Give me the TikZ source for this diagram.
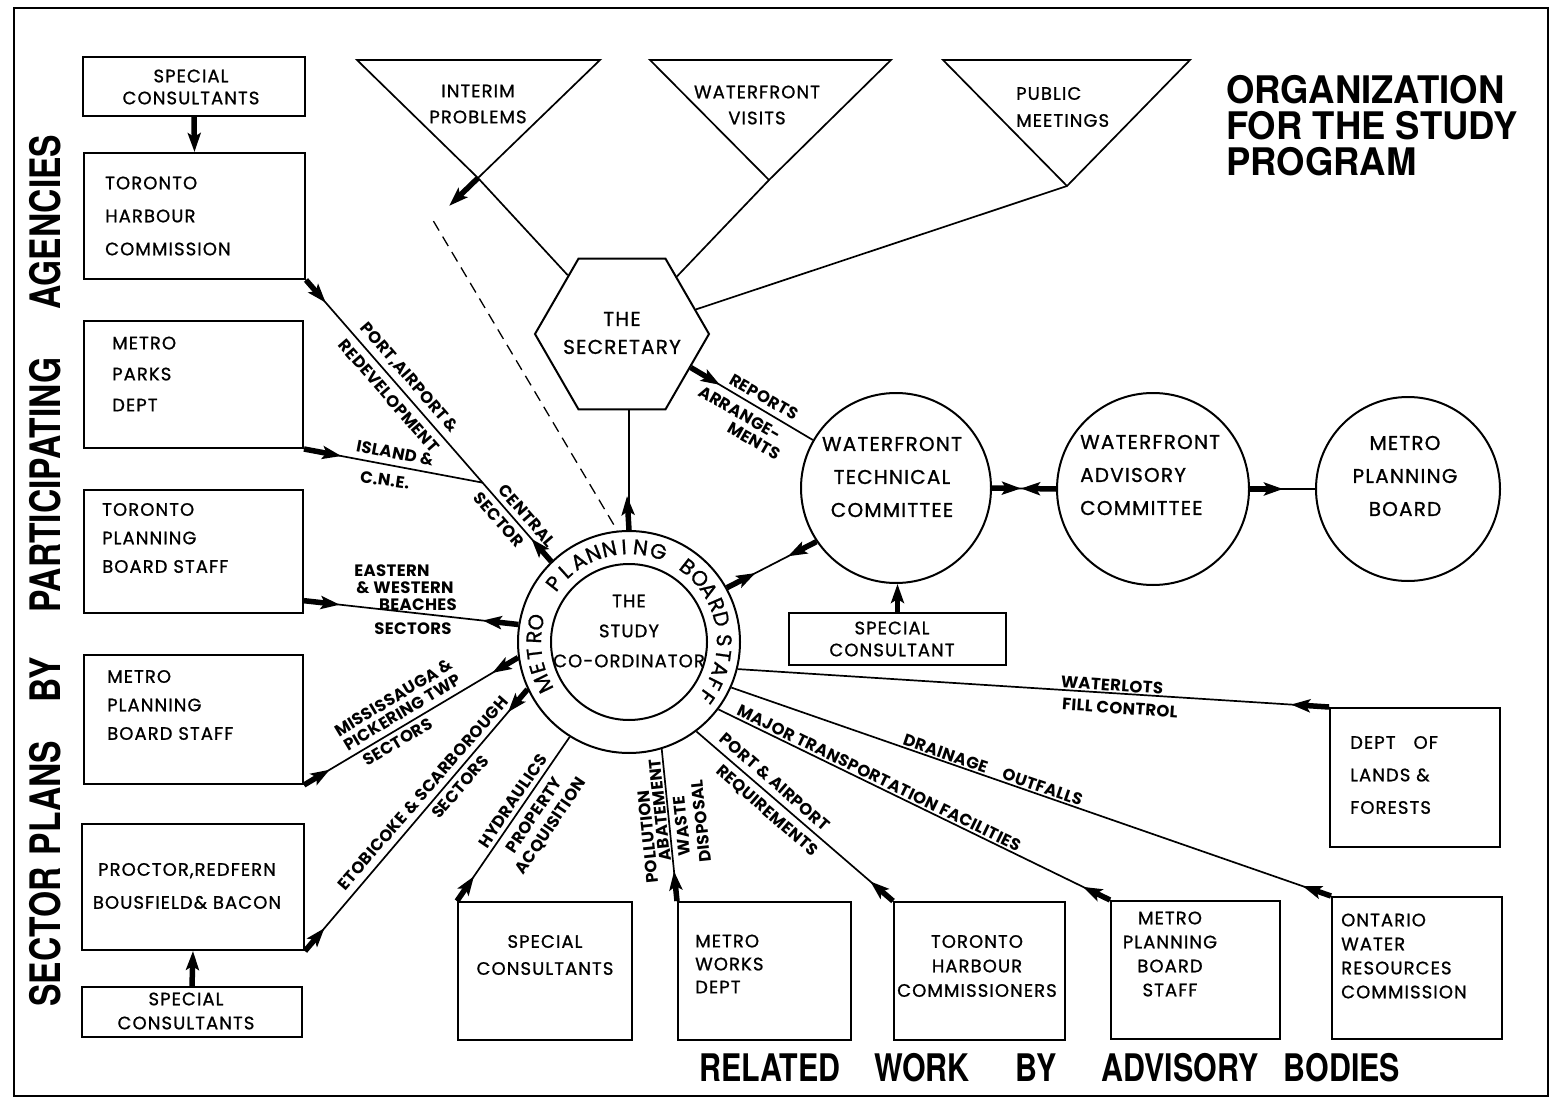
\documentclass[tikz,border=0pt]{standalone}
\usepackage{fontspec}
\usetikzlibrary{arrows.meta,calc,shapes.geometric}

\newfontfamily\boxfont[LetterSpace=6,FakeBold=1]{Poppins}
\newfontfamily\lblfont[LetterSpace=2]{Poppins}
\newfontfamily\headfont[FakeStretch=0.96]{TeX Gyre Heros}
\newfontfamily\narrowfont[FakeStretch=0.8]{TeX Gyre Heros}

% thick stub with an arrow tip, #1 long, running from #2 towards #3
\newcommand{\feed}[3][30pt]{\draw[feed] (#2) -- ($(#2)!#1!(#3)$);}

\tikzset{
  box/.style={rectangle, draw, line width=2pt, inner sep=0pt},
  orb/.style={circle, draw, line width=2pt, inner sep=0pt},
  link/.style={line width=1.7pt},
  feed/.style={line width=5.5pt, -{Stealth[length=19pt,width=13pt,inset=4pt]}},
  btext/.style={font=\boxfont\fontsize{18}{#1}\selectfont, align=center, inner sep=0pt},
  btext/.default=24,
  bigtext/.style={font=\boxfont\fontsize{20}{#1}\selectfont, align=center, inner sep=0pt},
  lbl/.style={font=\lblfont\bfseries\fontsize{16.5}{18}\selectfont, inner sep=0pt},
  ringch/.style={font=\boxfont\fontsize{21}{22}\selectfont, inner sep=0pt},
  headtext/.style={font=\headfont\bfseries\fontsize{38}{36}\selectfont, align=left, inner sep=0pt},
  sidetext/.style={font=\narrowfont\bfseries\fontsize{42}{44}\selectfont, inner sep=0pt},
  foottext/.style={font=\narrowfont\bfseries\fontsize{38}{40}\selectfont, inner sep=0pt}
}

\begin{document}
\begin{tikzpicture}[x=1pt, y=-1pt]
	\useasboundingbox (0,0) rectangle (1556,1102);
	\draw[line width=2.5pt] (14,8) rectangle (1548,1096);

	% headings
	\node[headtext, anchor=west](title) at (1226,126){ORGANIZATION\\FOR THE STUDY\\PROGRAM};
	\foreach \w/\y in {AGENCIES/222, PARTICIPATING/485, BY/680, PLANS/798, SECTOR/937}
		\node[sidetext, rotate=90](side\w) at (45,\y){\w};
	\foreach \w/\x in {RELATED/770, WORK/922, BY/1036, ADVISORY/1180, BODIES/1342}
		\node[foottext](foot\w) at (\x,1068){\w};

	% participating agencies
	\node[box, minimum width=222pt, minimum height=59pt](spTop) at (194,86.5){};
	\node[btext=22](spTopText) at (191,87){SPECIAL\\CONSULTANTS};
	\node[box, minimum width=221pt, minimum height=126pt](thcBox) at (194.5,216){};
	\node[btext=33, align=left, anchor=west](thcText) at (105,216){TORONTO\\HARBOUR\\COMMISSION};
	\node[box, minimum width=219pt, minimum height=127pt](mpdBox) at (193.5,384.5){};
	\node[btext=31, align=left, anchor=west](mpdText) at (112,374){METRO\\PARKS\\DEPT};
	\node[box, minimum width=219pt, minimum height=123pt](tpbsBox) at (193.5,551.5){};
	\node[btext=28.5, align=left, anchor=west](tpbsText) at (102,538){TORONTO\\PLANNING\\BOARD STAFF};
	\node[box, minimum width=219pt, minimum height=129pt](mpbsBox) at (193.5,719.5){};
	\node[btext=28.5, align=left, anchor=west](mpbsText) at (107,705){METRO\\PLANNING\\BOARD STAFF};
	\node[box, minimum width=222pt, minimum height=126pt](procBox) at (193,887){};
	\node[btext=33](procText) at (187,886){PROCTOR,REDFERN\\BOUSFIELD\& BACON};
	\node[box, minimum width=220pt, minimum height=50pt](spBot) at (192,1012){};
	\node[btext=24](spBotText) at (186,1011){SPECIAL\\CONSULTANTS};

	% advisory bodies along the bottom
	\node[box, minimum width=174pt, minimum height=138pt](scBox) at (545,971){};
	\node[btext=27](scText) at (545,955){SPECIAL\\CONSULTANTS};
	\node[box, minimum width=173pt, minimum height=138pt](mwdBox) at (764.5,971){};
	\node[btext=23, align=left, anchor=west](mwdText) at (695,964){METRO\\WORKS\\DEPT};
	\node[box, minimum width=171pt, minimum height=138pt](thcrBox) at (979.5,971){};
	\node[btext=24.5](thcrText) at (977,966){TORONTO\\HARBOUR\\COMMISSIONERS};
	\node[box, minimum width=169pt, minimum height=138pt](mpbs2Box) at (1195.5,970){};
	\node[btext=24](mpbs2Text) at (1170,954){METRO\\PLANNING\\BOARD\\STAFF};
	\node[box, minimum width=170pt, minimum height=142pt](owrcBox) at (1417,968){};
	\node[btext=24, align=left, anchor=west](owrcText) at (1341,956){ONTARIO\\WATER\\RESOURCES\\COMMISSION};
	\node[box, minimum width=170pt, minimum height=139pt](dlfBox) at (1415,777.5){};
	\node[btext=32.5, align=left, anchor=west](dlfText) at (1350,775){DEPT\quad OF\\LANDS \&\\FORESTS};

	% the study co-ordinator
	\node[orb, minimum size=222pt](scOuter) at (629,642){};
	\node[orb, minimum size=156pt](scInner) at (629,642){};
	\node[circle, minimum size=190pt, inner sep=0pt](scMid) at (629,642){};
	\node[btext=30](scText) at (629,631){THE\\STUDY\\CO-ORDINATOR};
	\foreach \ch/\a [count=\i] in {M/206,E/196.5,T/187,R/177.5,O/168,P/142,L/132,A/122,N/112,N/102.5,I/93,N/83,G/72.5,B/52,O/42.5,A/33,R/23.5,D/14,S/1,T/-8,A/-17,F/-26.5,F/-35.5}
		\node[ringch, rotate=\a-90](ringCh\i) at (scMid.\a){\ch};

	% secretary and the three meeting triangles
	\node[regular polygon, regular polygon sides=6, draw, line width=2pt, minimum size=174pt, inner sep=0pt](secHex) at (622,334){};
	\node[bigtext=28](secText) at (622,333){THE\\SECRETARY};

	\coordinate (ipRight) at (600,60);
	\coordinate (ipApex) at (478,178);
	\draw[link] (357,60) -- (ipRight) -- (ipApex) -- cycle;
	\node[btext=26](ipText) at (478,104){INTERIM\\PROBLEMS};
	\coordinate (wvApex) at (769,180);
	\draw[link] (650,60) -- (891,60) -- (wvApex) -- cycle;
	\node[btext=26](wvText) at (757,105){WATERFRONT\\VISITS};
	\coordinate (pmApex) at (1067,186);
	\draw[link] (943,60) -- (1190,60) -- (pmApex) -- cycle;
	\node[btext=27, align=left, anchor=west](pmText) at (1016,107){PUBLIC\\MEETINGS};

	% committees
	\node[orb, minimum size=190pt](wtcCirc) at (896,488){};
	\node[bigtext=33](wtcText) at (892,477){WATERFRONT\\TECHNICAL\\COMMITTEE};
	\node[orb, minimum size=192pt](wacCirc) at (1153,489){};
	\node[bigtext=33, align=left, anchor=west](wacText) at (1080,475){WATERFRONT\\ADVISORY\\COMMITTEE};
	\node[orb, minimum size=184pt](mpbCirc) at (1408,489){};
	\node[bigtext=33](mpbText) at (1405,476){METRO\\PLANNING\\BOARD};
	\node[box, minimum width=217pt, minimum height=52pt](wtcSc) at (897.5,639){};
	\node[btext=22](wtcScText) at (892,639){SPECIAL\\CONSULTANT};

	% links round the secretary
	\draw[link] (ipApex) -- (secHex);
	\draw[link] (wvApex) -- (secHex);
	\draw[link] (pmApex) -- (secHex);
	\coordinate (ipTip) at ($(ipApex)!-40pt!(ipRight)$);
	\coordinate (ipDash) at ($(ipApex)!-62pt!(ipRight)$);
	\draw[feed] (ipApex) -- (ipTip);
	\draw[link, line width=1.3pt, dash pattern=on 11pt off 7pt] (ipDash) -- (scOuter.96);
	\draw[link] (scOuter.north) -- (scOuter.north |- secHex.south);
	\feed[34pt]{scOuter.north}{secHex.south}
	\draw[link] (secHex.-26) -- (wtcCirc.150);
	\feed[34pt]{secHex.-26}{wtcCirc.150}

	% links between the committees
	\draw[link] (scOuter.29) -- (wtcCirc.214);
	\feed[32pt]{scOuter.29}{wtcCirc.214}
	\feed[32pt]{wtcCirc.214}{scOuter.29}
	\draw[link] (wtcCirc.east) -- (wacCirc.west);
	\feed[29pt]{wtcCirc.east}{wacCirc.west}
	\feed[35pt]{wacCirc.west}{wtcCirc.east}
	\draw[link] (wacCirc.east) -- (mpbCirc.west);
	\feed[33pt]{wacCirc.east}{mpbCirc.west}
	\draw[feed] (wtcSc.north) -- (wtcSc.north |- wtcCirc.south);
	\draw[feed] (spTop.south) -- (thcBox.north);
	\draw[feed] (spBot.north) -- (procBox.south);

	% sector plans in to the co-ordinator
	\draw[link] (thcBox.south east) -- (scOuter.134);
	\feed{thcBox.south east}{scOuter.134}
	\feed{scOuter.134}{thcBox.south east}
	\coordinate (cneJoin) at ($(thcBox.south east)!0.72!(scOuter.134)$);
	\draw[link] (mpdBox.south east) -- (cneJoin);
	\feed[38pt]{mpdBox.south east}{cneJoin}
	\draw[link] (tpbsBox.-24) -- (scOuter.171);
	\feed[36pt]{tpbsBox.-24}{scOuter.171}
	\feed[36pt]{scOuter.171}{tpbsBox.-24}
	\draw[link] (mpbsBox.south east) -- (scOuter.188);
	\feed{mpbsBox.south east}{scOuter.188}
	\feed{scOuter.188}{mpbsBox.south east}
	\draw[link] (procBox.south east) -- (scOuter.205);
	\feed{procBox.south east}{scOuter.205}
	\feed{scOuter.205}{procBox.south east}

	% related work in to the co-ordinator
	\draw[link] (scBox.north west) -- (scOuter.238);
	\feed{scBox.north west}{scOuter.238}
	\draw[link] (mwdBox.north west) -- (scOuter.287);
	\feed{mwdBox.north west}{scOuter.287}
	\draw[link] (thcrBox.north west) -- (scOuter.307);
	\feed{thcrBox.north west}{scOuter.307}
	\draw[link] (mpbs2Box.north west) -- (scOuter.323);
	\feed{mpbs2Box.north west}{scOuter.323}
	\draw[link] (owrcBox.north west) -- (scOuter.336);
	\feed{owrcBox.north west}{scOuter.336}
	\draw[link] (dlfBox.north west) -- (scOuter.346);
	\feed[38pt]{dlfBox.north west}{scOuter.346}

	% line labels
	\node[lbl, rotate=-49](lblPort) at (409,378){PORT,AIRPORT\,\&};
	\node[lbl, rotate=-49](lblRedev) at (389,396){REDEVELOPMENT};
	\node[lbl, rotate=-11](lblIsland) at (395,453){ISLAND \&};
	\node[lbl, rotate=-8](lblCne) at (385,480){C.N.E.};
	\node[lbl, rotate=-49](lblCentral) at (527,516){CENTRAL};
	\node[lbl, rotate=-49](lblSector) at (499,520){SECTOR};
	\node[lbl](lblEastern) at (392,571){EASTERN};
	\node[lbl](lblWestern) at (405,588){\& WESTERN};
	\node[lbl](lblBeaches) at (418,605){BEACHES};
	\node[lbl](lblEwSect) at (413,629){SECTORS};
	\node[lbl, rotate=31, align=center, font=\lblfont\bfseries\fontsize{16.5}{17}\selectfont](lblMiss) at (398,705){MISSISSAUGA \&\\PICKERING TWP};
	\node[lbl, rotate=31](lblMpSect) at (398,742){SECTORS};
	\node[lbl, rotate=49](lblEtob) at (423,793){ETOBICOKE \& SCARBOROUGH};
	\node[lbl, rotate=49](lblEsSect) at (460,787){SECTORS};
	\node[lbl, rotate=56](lblHydr) at (513,801){HYDRAULICS};
	\node[lbl, rotate=56, align=center, font=\lblfont\bfseries\fontsize{16.5}{20}\selectfont](lblProp) at (543,821){PROPERTY\\ACQUISITION};
	\node[lbl, rotate=96](lblPoll) at (648,837){POLLUTION};
	\node[lbl, rotate=96](lblAbat) at (660,810){ABATEMENT};
	\node[lbl, rotate=96](lblWaste) at (682,826){WASTE};
	\node[lbl, rotate=96](lblDisp) at (701,821){DISPOSAL};
	\node[lbl, rotate=-41](lblPortAir) at (775,782){PORT \& AIRPORT};
	\node[lbl, rotate=-41](lblReq) at (767,811){REQUIREMENTS};
	\node[lbl, rotate=-26](lblMajor) at (879,778){MAJOR TRANSPORTATION FACILITIES};
	\node[lbl, rotate=-19](lblDrain) at (993,770){DRAINAGE\quad OUTFALLS};
	\node[lbl, rotate=-4](lblWaterlots) at (1112,685){WATERLOTS};
	\node[lbl, rotate=-4](lblFill) at (1120,708){FILL CONTROL};
	\node[lbl, rotate=-30](lblReports) at (764,397){REPORTS};
	\node[lbl, rotate=-30](lblArr) at (740,413){ARRANGE-};
	\node[lbl, rotate=-30](lblMents) at (754,441){MENTS};
\end{tikzpicture}
\end{document}
